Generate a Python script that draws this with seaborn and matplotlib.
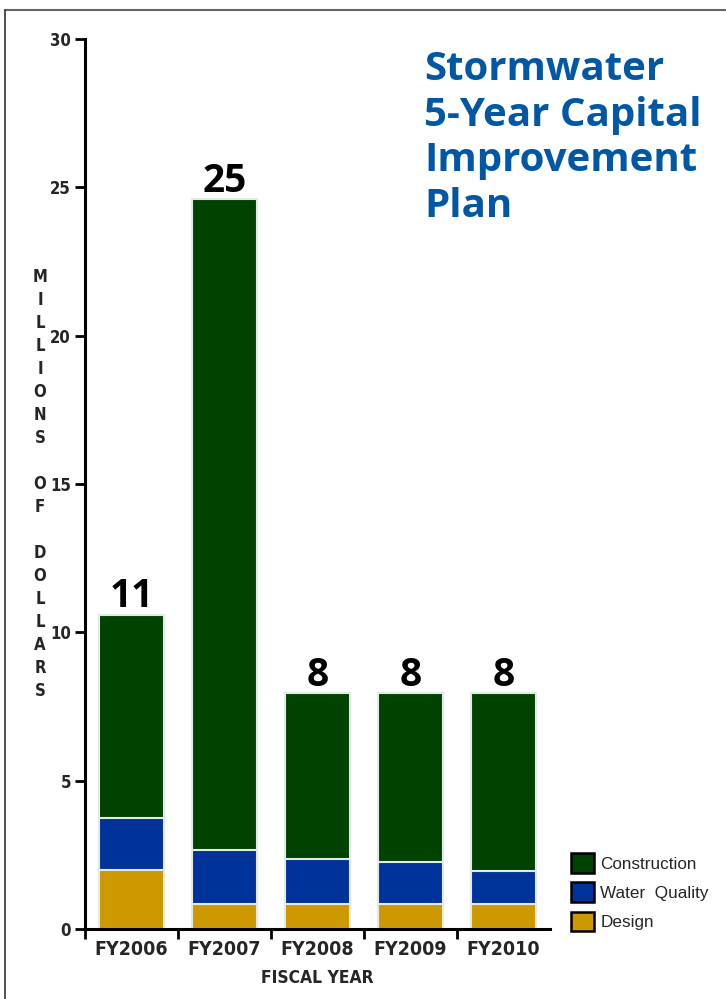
import matplotlib
matplotlib.use("Agg")
import matplotlib.pyplot as plt
import matplotlib.patches as mpatches
from matplotlib.lines import Line2D
from matplotlib import font_manager
from matplotlib.font_manager import FontProperties
import seaborn as sns
import pandas as pd

years = ["FY2006", "FY2007", "FY2008", "FY2009", "FY2010"]
design = [2.0, 0.85, 0.85, 0.85, 0.85]
water_quality = [1.75, 1.8, 1.5, 1.4, 1.1]
construction = [6.85, 21.95, 5.6, 5.7, 6.0]
total_labels = ["11", "25", "8", "8", "8"]
series_names = ["Construction", "Water  Quality", "Design"]
colors = {"Construction": "#004200", "Water  Quality": "#00339a", "Design": "#cc9900"}

sns.set_theme(style="white")
plt.rcParams['font.family'] = ["Liberation Sans", "DejaVu Sans"]

# find a condensed bold font if installed
cond_path = None
cands = []
for f in font_manager.fontManager.ttflist:
    nm = (f.name + " " + f.fname).lower()
    is_cond = ("narrow" in nm or "condensed" in nm or str(f.stretch).lower() in ("condensed", "semi-condensed", "extra-condensed")
               or (isinstance(f.stretch, int) and f.stretch <= 400))
    w = f.weight if isinstance(f.weight, int) else (700 if "bold" in str(f.weight) else 400)
    if is_cond and w >= 600 and "oblique" not in nm and "italic" not in nm:
        score = 0 if "liberation" in nm else (1 if "dejavu" in nm else 2)
        cands.append((score, f.fname))
if cands:
    cands.sort()
    cond_path = cands[0][1]


def cfp(size):
    if cond_path:
        return FontProperties(fname=cond_path, size=size)
    return FontProperties(family="DejaVu Sans", weight="bold", size=size * 0.85)


df = pd.DataFrame({"year": years, "design": design, "wq": water_quality, "con": construction})
df["lvl_design"] = df["design"]
df["lvl_wq"] = df["design"] + df["wq"]
df["lvl_total"] = df["lvl_wq"] + df["con"]

fig = plt.figure(figsize=(7.26, 9.99), dpi=100)
ax = fig.add_axes([85/726, 1-929/999, 465/726, 890/999])

for col, name in [("lvl_total", "Construction"), ("lvl_wq", "Water  Quality"), ("lvl_design", "Design")]:
    sns.barplot(data=df, x="year", y=col, color=colors[name], width=0.70,
                edgecolor="#e4ebe4", linewidth=1.5, saturation=1, ax=ax, errorbar=None)

ax.set_xlim(-0.5, 4.5)
ax.set_ylim(0, 30)
ax.set_yticks([0, 5, 10, 15, 20, 25, 30])
ax.set_yticklabels(["0", "5", "10", "15", "20", "25", "30"])
ax.set_xticks(range(5))
ax.set_xticklabels(years)
for lab in ax.get_yticklabels():
    lab.set_fontproperties(cfp(12))
for lab in ax.get_xticklabels():
    lab.set_fontproperties(cfp(14))
ax.set_xticks([-0.5, 0.5, 1.5, 2.5, 3.5], minor=True)
ax.tick_params(axis="x", which="major", length=0, pad=8)
ax.tick_params(axis="x", which="minor", length=7, width=2, color="black", direction="out", bottom=True)
ax.tick_params(axis="y", length=7, width=2, color="black", direction="out", left=True, pad=3)
for s in ["top", "right"]:
    ax.spines[s].set_visible(False)
for s in ["left", "bottom"]:
    ax.spines[s].set_linewidth(2.2)
    ax.spines[s].set_color("black")
ax.set_xlabel("")
ax.set_ylabel("")

for i, (t, lab) in enumerate(zip(df["lvl_total"], total_labels)):
    ax.annotate(lab, (i, t), xytext=(0, -1), textcoords="offset points", ha="center", va="bottom",
                fontsize=28, fontweight="bold", fontfamily=["Open Sans", "DejaVu Sans"], color="black")

fig.text(317/726, 1-978/999, "FISCAL YEAR", ha="center", va="center", fontproperties=cfp(12.5))

ylab = "\n".join(list("MILLIONS")) + "\n\n" + "\n".join(list("OF")) + "\n\n" + "\n".join(list("DOLLARS"))
fig.text(40/726, 1-484/999, ylab, ha="center", va="center", fontproperties=cfp(12), linespacing=1.36)

fig.text(424/726, 1-50/999, "Stormwater\n5-Year Capital\nImprovement\nPlan", ha="left", va="top",
         fontsize=29, fontweight="bold", fontfamily=["Open Sans", "DejaVu Sans"],
         color="#0057a6", linespacing=1.22)

handles = [mpatches.Patch(facecolor=colors[n], edgecolor="black", linewidth=1.8, label=n) for n in series_names]
fig.legend(handles=handles, loc="upper left", bbox_to_anchor=(556/726, 1-838/999), frameon=False,
           handlelength=1.3, handleheight=1.35, handletextpad=0.4, labelspacing=0.58,
           prop={"family": ["Liberation Sans", "DejaVu Sans"], "size": 12.3})

fig.add_artist(Line2D([5/726, 1], [1-10/999, 1-10/999], color="#666666", lw=1.5, transform=fig.transFigure))
fig.add_artist(Line2D([5/726, 5/726], [0, 1-10/999], color="#333333", lw=1.2, transform=fig.transFigure))

fig.savefig("out.png", dpi=100)
